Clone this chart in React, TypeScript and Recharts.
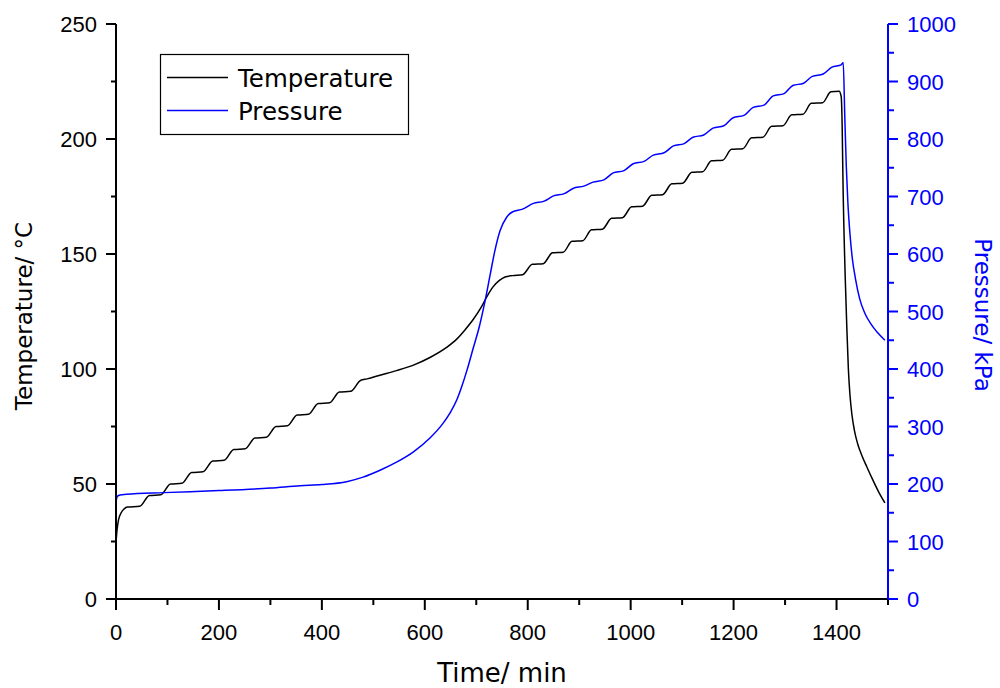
import React from 'react';
import { LineChart, Line, XAxis, YAxis } from 'recharts';

// ---- data ----
const tempTime = [0,2,5,10,16,22,46,65,87,106,128,147,169,188,210,229,251,270,292,311,333,352,374,393,415,434,456,475,488,513,545,578,610,643,662,678,694,710,722,733,745,756,770,790,809,830,848,869,886,907,924,945,963,984,1002,1023,1041,1062,1080,1101,1119,1140,1157,1179,1196,1218,1235,1257,1274,1296,1313,1335,1351,1373,1389,1405,1409,1411,1412.5,1417,1420,1423,1426,1430,1435,1441,1449,1459,1470,1482,1494];
const tempValue = [24.5,30,34.5,37.5,39.2,40,40.3,45,45.3,50,50.3,55,55.3,60,60.3,65,65.3,70,70.3,75,75.3,80,80.3,85,85.3,90,90.3,95,95.7,97.3,99.3,101.7,105,109.5,113,117,121.5,127,132,135.8,138.5,140,140.6,141,145.5,145.8,150.5,150.8,155.5,155.8,160.5,160.8,165.5,165.8,170.5,170.8,175.5,175.8,180.5,180.8,185.5,185.8,190.5,190.8,195.5,195.8,200.5,200.8,205.5,205.8,210.5,210.8,215.5,215.8,220.5,220.8,218.5,205,182,139,118,100,89,80,73,67.5,62.5,57.4,52,46.5,41.8];

const pressTime = [0,1,3,8,20,93,200,300,358,400,448,480,513,545,578,610,635,650,662,672,682,694,706,717,727,736,746,759,770,790,811,832,850,871,888,909,927,948,966,987,1005,1026,1044,1065,1083,1104,1121,1142,1160,1181,1199,1220,1238,1259,1277,1298,1315,1336,1353,1374,1391,1409,1413,1416,1419,1422,1426,1431,1437,1445,1455,1467,1480,1494];
const pressValue = [167,174,179,181,182,185,188.5,193,197,199,204,212,224,238,256,280,305,325,346,370,398,436,474,518,564,605,640,664,673,678,688,692,701,705,714,718,725,729,741,745,757,761,772,776,788,792,803,807,819,823,837,841,855,859,875,879,893,897,909,913,925,929,933,840,752,690,636,590,556,522,497,478,463,450];

const xTicks = [0,100,200,300,400,500,600,700,800,900,1000,1100,1200,1300,1400,1500];
const leftTicks = [0,25,50,75,100,125,150,175,200,225,250];
const rightTicks = [0,50,100,150,200,250,300,350,400,450,500,550,600,650,700,750,800,850,900,950,1000];

const xTitle = 'Time/ min';
const leftTitle = 'Temperature/ \u00B0C';
const rightTitle = 'Pressure/ kPa';
const seriesNames = ['Temperature', 'Pressure'];

const tempData = tempTime.map((t, i) => ({ t, v: tempValue[i] }));
const pressData = pressTime.map((t, i) => ({ t, v: pressValue[i] }));

const BLUE = '#0000ff';
const TICK_FONT = '"Liberation Sans", Arial, sans-serif';
const TITLE_FONT = '"DejaVu Sans", sans-serif';

const BottomTick = (props: any) => {
  const { x, y, payload } = props;
  const v = payload.value;
  const major = v % 200 === 0;
  return (
    <g>
      <line x1={x} x2={x} y1={y} y2={y + (major ? 11 : 6)} stroke="#000" strokeWidth={2} />
      {major && v <= 1400 && (
        <text x={x} y={y + 41} textAnchor="middle" fontSize={22} fontFamily={TICK_FONT} fill="#000">{v}</text>
      )}
    </g>
  );
};

const TopTick = (props: any) => {
  const { x, y, payload } = props;
  const v = payload.value;
  const major = v % 200 === 0;
  return <line x1={x} x2={x} y1={y} y2={y + (major ? 10 : 6)} stroke="#000" strokeWidth={2} />;
};

const LeftTick = (props: any) => {
  const { x, y, payload } = props;
  const v = payload.value;
  const major = v % 50 === 0;
  return (
    <g>
      <line x1={x - (major ? 10 : 5)} x2={x} y1={y} y2={y} stroke="#000" strokeWidth={2} />
      {major && (
        <text x={x - 19} y={y + 8} textAnchor="end" fontSize={22} fontFamily={TICK_FONT} fill="#000">{v}</text>
      )}
    </g>
  );
};

const RightTick = (props: any) => {
  const { x, y, payload } = props;
  const v = payload.value;
  const major = v % 100 === 0;
  return (
    <g>
      <line x1={x} x2={x + (major ? 10 : 6)} y1={y} y2={y} stroke={BLUE} strokeWidth={2} />
      {major && (
        <text x={x + 19} y={y + 8} textAnchor="start" fontSize={22} fontFamily={TICK_FONT} fill={BLUE}>{v}</text>
      )}
    </g>
  );
};

export default function App() {
  return (
    <div style={{ position: 'absolute', left: 0, top: 0, width: 1000, height: 688, background: '#fff' }}>
      <LineChart width={1000} height={688} margin={{ top: 24, right: 42, bottom: 29, left: 56 }}>
        <XAxis
          xAxisId="bottom"
          dataKey="t"
          type="number"
          domain={[0, 1500]}
          allowDataOverflow
          ticks={xTicks}
          interval={0}
          height={60}
          tickSize={0}
          tickMargin={0}
          tickLine={false}
          axisLine={{ stroke: '#000', strokeWidth: 2 }}
          tick={<BottomTick />}
        />
        <XAxis
          xAxisId="top"
          orientation="top"
          dataKey="t"
          type="number"
          domain={[0, 1500]}
          allowDataOverflow
          ticks={xTicks}
          interval={0}
          height={0}
          tickSize={0}
          tickMargin={0}
          tickLine={false}
          axisLine={{ stroke: '#000', strokeWidth: 2 }}
          tick={<TopTick />}
        />
        <YAxis
          yAxisId="left"
          type="number"
          domain={[0, 250]}
          allowDataOverflow
          ticks={leftTicks}
          interval={0}
          width={60}
          tickSize={0}
          tickMargin={0}
          tickLine={false}
          axisLine={{ stroke: '#000', strokeWidth: 2 }}
          tick={<LeftTick />}
        />
        <YAxis
          yAxisId="right"
          orientation="right"
          type="number"
          domain={[0, 1000]}
          allowDataOverflow
          ticks={rightTicks}
          interval={0}
          width={70}
          tickSize={0}
          tickMargin={0}
          tickLine={false}
          axisLine={{ stroke: BLUE, strokeWidth: 2 }}
          tick={<RightTick />}
        />
        <Line
          xAxisId="bottom"
          yAxisId="left"
          data={tempData}
          dataKey="v"
          name={seriesNames[0]}
          type="monotone"
          stroke="#000"
          strokeWidth={1.5}
          dot={false}
          activeDot={false}
          isAnimationActive={false}
        />
        <Line
          xAxisId="bottom"
          yAxisId="right"
          data={pressData}
          dataKey="v"
          name={seriesNames[1]}
          type="monotone"
          stroke={BLUE}
          strokeWidth={1.5}
          dot={false}
          activeDot={false}
          isAnimationActive={false}
        />
      </LineChart>
      <svg width={1000} height={688} style={{ position: 'absolute', left: 0, top: 0, pointerEvents: 'none' }}>
        <text x={502} y={682} textAnchor="middle" fontSize={26} fontFamily={TITLE_FONT} fill="#000">{xTitle}</text>
        <text x={32} y={316} textAnchor="middle" fontSize={23} fontFamily={TITLE_FONT} fill="#000" transform="rotate(-90 32 316)">{leftTitle}</text>
        <text x={975} y={315} textAnchor="middle" fontSize={23} fontFamily={TITLE_FONT} fill={BLUE} transform="rotate(90 975 315)">{rightTitle}</text>
        <rect x={160.5} y={54.5} width={248} height={80} fill="#fff" stroke="#000" strokeWidth={1.2} />
        <line x1={167} x2={228} y1={77.5} y2={77.5} stroke="#000" strokeWidth={1.3} />
        <line x1={167} x2={228} y1={110.5} y2={110.5} stroke={BLUE} strokeWidth={1.3} />
        <text x={238} y={87} fontSize={24.5} fontFamily={TITLE_FONT} fill="#000">{seriesNames[0]}</text>
        <text x={238} y={120} fontSize={24.5} fontFamily={TITLE_FONT} fill="#000">{seriesNames[1]}</text>
      </svg>
    </div>
  );
}
